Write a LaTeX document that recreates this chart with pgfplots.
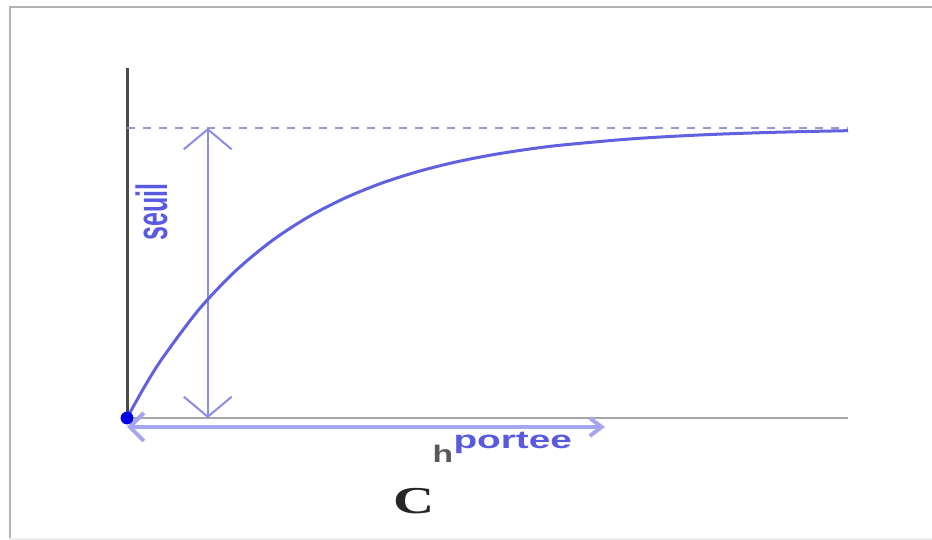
\documentclass[border=0pt]{standalone}
\usepackage{pgfplots}
\pgfplotsset{compat=1.18}
\usepackage{fontspec}
\setmainfont{Liberation Serif}
\setsansfont{Liberation Sans}
\usetikzlibrary{arrows.meta}

\definecolor{curveblue}{RGB}{96,96,225}
\definecolor{arrowblue}{RGB}{140,140,232}
\definecolor{rangeblue}{RGB}{165,165,240}
\definecolor{sillgray}{RGB}{150,150,200}
\definecolor{labelblue}{RGB}{90,90,225}

\begin{document}
\begin{tikzpicture}
  % page: 932 x 540 px at 0.5bp per px
  \path[use as bounding box] (0,0) rectangle (466bp,-270bp);
  \fill[white] (0,0) rectangle (466bp,-270bp);
  \draw[gray!60, line width=1bp] (5bp,-269bp) -- (5bp,-3.5bp) -- (466bp,-3.5bp);
  \draw[gray!15, line width=1bp] (5bp,-269.5bp) -- (466bp,-269.5bp);

  \begin{axis}[
      at={(63.5bp,-209bp)}, anchor=south west,
      scale only axis, width=360.5bp, height=175bp,
      xmin=0, xmax=10, ymin=0, ymax=1.207,
      hide axis, clip=false,
    ]
    % axes
    \addplot[black!70, line width=1.5bp] coordinates {(0,-0.007) (0,1.207)};
    \addplot[gray!70, line width=0.8bp] coordinates {(0,0) (10,0)};
    % sill
    \addplot[sillgray, line width=0.8bp, dash pattern=on 4bp off 4bp] coordinates {(0,1) (10,1)};
    % range arrow
    \addplot[rangeblue, line width=2bp,
      {Straight Barb[length=7bp,width=14bp]}-{Straight Barb[length=6bp,width=9bp]}]
      coordinates {(0,-0.031) (6.63,-0.031)};
    % sill arrow
    \addplot[arrowblue, line width=1bp,
      {Straight Barb[length=10bp,width=24bp]}-{Straight Barb[length=10bp,width=24bp]}]
      coordinates {(1.12,0) (1.12,1)};
    % exponential variogram
    \addplot[curveblue, line width=1.5bp, smooth] coordinates {
      (0,0) (0.25,0.1109) (0.5,0.2094) (1,0.3750) (1.5,0.5059) (2,0.6094)
      (2.5,0.6912) (3,0.7559) (3.5,0.8070) (4,0.8474) (4.5,0.8794)
      (5,0.9046) (5.5,0.9246) (6,0.9404) (7,0.9627) (8,0.9767)
      (9,0.9854) (10,0.9909)};
    % origin dot
    \addplot[only marks, mark=*, mark size=3bp, color=blue!90!black] coordinates {(0,0)};

    \node[font=\sffamily\bfseries\fontsize{12.5bp}{12.5bp}\selectfont, text=labelblue,
      rotate=90, yscale=1.75] at (axis cs:0.34,0.71) {seuil};
    \node[font=\sffamily\bfseries\fontsize{12.5bp}{12.5bp}\selectfont, text=labelblue,
      xscale=1.55] at (axis cs:5.35,-0.085) {portee};
    \node[font=\sffamily\bfseries\fontsize{12bp}{12bp}\selectfont, text=black!65,
      xscale=1.4] at (axis cs:4.38,-0.125) {h};
    \node[font=\bfseries\fontsize{19bp}{19bp}\selectfont, text=black!85,
      xscale=1.5] at (axis cs:3.98,-0.285) {C};
  \end{axis}
\end{tikzpicture}
\end{document}
